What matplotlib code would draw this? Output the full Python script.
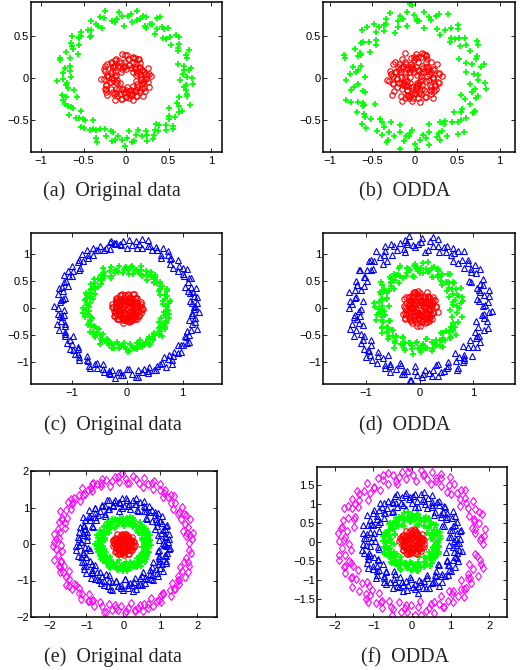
import numpy as np
import matplotlib
matplotlib.use("Agg")
import matplotlib.pyplot as plt
from matplotlib.ticker import FuncFormatter

plt.rcParams['font.family'] = ['Liberation Sans', 'DejaVu Sans']

# ---------------- data: ring points as (angle in degrees, radius in 1/100) ----------------
# Panel (a) Original data
A_RED_ANG = [3,8,14,19,24,31,35,40,46,52,57,61,67,73,78,84,89,95,100,106,111,117,122,128,133,139,145,150,155,161,166,172,177,183,188,194,199,205,210,216,221,227,232,238,243,249,254,260,265,271,276,282,287,293,298,304,309,315,320,326,331,337,342,348,353,358,27,118,200,290]
A_RED_RAD = [18,25,12,22,28,15,20,10,24,17,27,13,21,26,16,23,11,19,29,14,22,25,17,9,24,20,28,15,18,26,12,23,21,30,16,19,25,13,27,22,10,18,24,15,29,20,14,26,17,23,11,21,28,16,25,19,13,24,22,27,15,20,12,26,18,23,21,14,25,19]
A_RED_ANG2 = [12,50,93,137,170,215,262,300,345,22,66,108,150,192,236,279,321,5,44,88,129,174,211,256,297,338,36,79,121,163,207,248,289,331,16,58,99,141,184,226,268,312,354,28,71,113,157,196,242,284,326,9,53,96,133,180,223,270,309,350]
A_RED_RAD2 = [23,16,27,20,13,29,18,25,21,14,26,19,28,11,22,24,17,30,15,27,20,23,12,26,18,29,21,16,25,19,28,14,22,24,17,27,13,20,26,23,15,29,18,21,25,12,28,19,24,16,22,27,20,14,26,17,30,23,18,21]
A_GRN_ANG = [1,4,9,12,15,21,24,27,33,36,38,43,47,50,55,58,61,66,70,72,77,81,84,88,92,96,99,104,107,110,116,119,122,126,131,134,137,142,145,149,153,157,160,165,168,171,176,179,183,187,190,195,198,201,206,210,213,217,221,224,228,232,235,240,243,246,251,254,258,262,266,269,273,277,280,285,288,291,296,299,303,307,310,314,318,321,325,329,332,337,340,343,348,351,355,358,18,64,140,230]
A_GRN_RAD = [72,67,78,70,63,75,81,69,74,66,79,71,64,77,73,68,82,70,65,76,72,80,67,74,62,78,71,69,83,75,66,73,79,70,64,76,72,81,68,74,63,77,70,80,67,73,75,65,82,71,69,78,74,62,76,72,80,66,73,70,79,64,75,71,68,83,73,66,77,70,74,81,63,76,69,72,79,67,75,71,65,78,73,80,68,74,62,77,70,82,66,75,72,69,79,64,76,71,73,78]
A_GRN_ANG2 = [7,8,30,41,45,52,63,68,75,79,94,101,113,128,130,147,151,163,173,181,185,193,203,208,219,226,237,244,256,260,271,275,283,294,301,305,312,316,327,334,345,353,360,57,86,118,139,199,248,290]
A_GRN_RAD2 = [75,69,71,78,66,73,80,64,76,70,74,68,79,72,65,77,71,81,67,74,70,63,78,73,76,69,72,80,66,75,71,77,64,79,73,68,82,70,75,67,74,71,78,62,76,70,73,79,65,72]

# Panel (b) ODDA
B_RED_ANG = [2,7,11,16,22,26,31,35,41,45,50,54,59,64,68,73,78,82,87,92,96,101,106,110,115,120,124,129,134,138,143,148,152,157,162,166,171,176,180,185,190,194,199,204,208,213,218,222,227,232,236,241,246,250,255,260,264,269,274,278,283,288,292,297,302,306,311,316,320,325,330,334,339,344,348,353,358,60,175,285]
B_RED_RAD = [22,14,29,8,25,18,31,12,20,27,5,23,16,30,10,26,19,13,28,21,7,24,17,32,11,22,27,15,9,25,20,30,13,18,24,6,28,16,21,33,12,26,19,10,23,29,14,20,8,27,17,31,22,11,25,15,28,19,13,24,30,9,21,26,16,18,32,12,23,27,7,20,25,14,29,17,22,10,26,19]
B_RED_ANG2 = [15,57,99,140,183,224,266,309,350,33,75,118,161,201,245,287,329,8,49,92,133,176,217,259,301,343,25,68,110,152,195,236,279,320,4,45,87,128,171,212,254,296,338,19,62,104,146,188,230,272,314,356,38,81,123,165,207,249,291,333]
B_RED_RAD2 = [17,26,11,30,21,14,24,8,28,19,31,13,23,16,27,10,22,29,15,25,20,12,33,18,26,9,24,30,14,21,27,17,11,25,32,19,23,13,28,16,22,7,26,20,29,15,24,31,12,18,27,21,10,25,19,30,14,23,17,28]
B_GRN_ANG = [3,6,11,14,19,23,26,31,35,39,42,46,51,54,58,63,66,71,74,79,82,86,91,94,98,103,106,111,114,118,123,127,130,135,138,142,147,150,154,159,162,167,170,174,179,182,186,191,194,198,203,206,211,214,218,223,226,230,235,238,242,247,250,255,258,262,267,270,275,278,282,287,290,294,299,302,307,310,314,319,322,326,331,334,339,342,346,351,354,358,48,97,155,208,247,300,17,120,265,330]
B_GRN_RAD = [74,61,83,69,78,57,72,86,65,76,70,59,81,73,67,85,63,77,71,60,79,68,74,88,62,75,70,82,58,73,66,80,71,64,84,69,76,61,78,72,87,65,74,70,59,81,67,76,63,85,72,68,79,56,75,71,83,64,77,69,60,80,73,66,86,70,62,78,74,68,82,57,75,71,79,64,84,69,73,61,77,67,81,72,58,76,70,85,65,74,63,79,71,68,83,60,75,72,66,80]
B_GRN_ANG2 = [4,9,16,28,33,44,49,60,69,77,88,92,101,108,116,125,133,140,145,157,164,172,177,189,196,201,209,216,221,233,240,245,253,260,264,272,280,285,292,297,305,312,317,324,329,337,344,349,356,88]
B_GRN_RAD2 = [70,79,63,84,72,66,77,59,81,74,68,86,71,64,78,73,82,60,75,69,85,67,76,72,61,80,70,74,83,65,78,71,58,76,69,84,73,66,79,71,62,87,74,68,80,64,77,72,83,70]

# Panel (c) Original data
C_RED_ANG = [4,9,15,20,25,30,36,41,46,51,57,62,67,72,78,83,88,93,99,104,109,114,120,125,130,135,141,146,151,156,162,167,172,177,183,188,193,198,204,209,214,219,225,230,235,240,246,251,256,261,267,272,277,282,288,293,298,303,309,314,319,324,330,335,340,345,351,356,70,250]
C_RED_RAD = [15,23,8,19,27,12,21,17,25,6,20,14,28,10,22,18,26,13,24,9,17,27,11,21,16,25,7,19,23,14,28,12,20,26,9,18,24,15,22,11,27,16,21,8,25,19,13,23,28,10,20,17,26,12,24,15,22,9,19,27,14,21,25,11,18,23,16,28,13,20]
C_RED_ANG2 = [7,48,90,131,174,215,257,299,341,27,69,110,152,194,236,278,320,2,44,85,127,169,211,252,294,336,18,60,102,143,185,227,269,311,352,34,76,118,160,201,243,285,327,12,54,95,137,179,221,263,305,347,23,65,107,148,190,232,274,316]
C_RED_RAD2 = [18,25,12,21,27,15,23,9,26,20,14,28,17,22,11,24,19,27,13,25,16,21,28,10,23,18,26,14,20,24,8,27,17,22,25,12,19,28,15,23,21,11,26,18,24,13,27,20,16,22,25,9,19,28,14,23,17,26,21,12]
C_GRN_ANG = [2,6,10,14,18,22,27,31,35,39,43,47,51,56,60,64,68,72,76,80,85,89,93,97,101,105,109,114,118,122,126,130,134,138,143,147,151,155,159,163,167,172,176,180,184,188,192,196,201,205,209,213,217,221,225,230,234,238,242,246,250,254,259,263,267,271,275,279,283,288,292,296,300,304,308,312,317,321,325,329,333,337,341,346,350,354,358,120,200,290]
C_GRN_RAD = [72,66,78,70,75,64,80,69,73,77,67,74,79,63,71,76,68,82,72,65,77,70,74,66,80,71,68,75,63,78,73,69,76,81,66,72,74,64,79,70,75,67,73,80,69,71,77,65,74,72,68,79,63,76,70,74,82,67,73,71,78,65,75,69,72,80,66,74,77,70,64,73,79,68,75,71,66,81,72,69,76,63,74,78,70,67,73,85,71,75]
C_GRN_ANG2 = [4,8,12,20,24,29,33,41,45,49,53,58,66,70,74,78,83,87,91,95,103,107,111,116,124,128,132,136,141,145,149,153,157,161,165,169,174,178,182,186,194,198,203,207,211,215,219,223,227,232,236,240,244,248,252,256,261,265,269,273,277,281,285,290,294,298,302,306,310,314,319,323,327,331,335,339,344,348,352,356]
C_GRN_RAD2 = [70,76,67,73,79,65,74,71,68,77,72,80,66,75,70,73,78,64,76,71,69,74,81,67,72,77,70,65,75,79,68,73,71,76,63,78,72,69,74,80,66,71,77,73,68,75,70,79,64,74,72,67,76,71,78,69,73,65,75,80,70,74,67,77,72,71,79,66,74,69,76,73,68,78,71,75,64,72,77,70]
C_BLU_ANG = [1,4,7,11,14,17,21,24,27,30,34,37,40,44,47,50,53,57,60,63,67,70,73,76,80,83,86,90,93,96,99,103,106,109,113,116,119,122,126,129,132,136,139,142,145,149,152,155,159,162,165,168,172,175,178,182,185,188,191,195,198,201,205,208,211,214,218,221,224,228,231,234,237,241,244,247,251,254,257,260,264,267,270,274,277,280,283,287,290,293,297,300,303,306,310,313,316,320,323,326,329,333,336,339,343,346,349,352,356,359]
C_BLU_RAD = [120,126,114,123,117,129,112,121,125,118,130,115,122,127,113,119,124,111,128,120,116,123,131,114,121,126,118,112,125,119,122,128,113,117,124,120,127,115,121,130,118,123,112,126,119,116,129,121,114,124,120,127,117,122,131,113,125,118,121,115,128,120,123,111,126,119,124,116,122,129,114,121,127,118,123,112,125,120,117,130,119,124,113,122,128,116,121,126,115,123,120,118,129,112,125,121,117,127,114,122,126,119,123,116,131,120,113,124,118,121]
C_BLU_ANG2 = [2,5,9,16,19,26,32,36,42,49,55,58,65,72,78,81,88,95,101,104,111,118,124,127,134,141,147,150,157,163,170,173,180,187,193,196,203,210,216,219,226,233,239,242,249,256,262,265,272,279,285,288,295,302,308,311,318,325,331,334,341,348,354,357,14,100,186,222,255,308]
C_BLU_RAD2 = [123,117,127,114,121,129,119,125,112,122,128,116,124,120,131,113,126,118,122,127,115,121,129,117,124,111,126,120,123,128,114,119,125,121,130,116,122,118,127,113,124,120,129,115,121,126,119,123,112,128,117,122,125,120,131,114,124,119,127,116,121,125,118,129,122,120,115,126,123,119]

# Panel (d) ODDA
D_RED_ANG = [2,8,13,18,24,29,34,39,45,50,55,60,66,71,76,81,87,92,97,102,108,113,118,123,129,134,139,144,150,155,160,165,171,176,181,186,192,197,202,207,213,218,223,228,234,239,244,249,255,260,265,270,276,281,286,291,297,302,307,312,318,323,328,333,339,344,349,354,140,20]
D_RED_RAD = [20,30,12,25,17,33,8,22,28,14,26,19,32,10,23,16,29,6,21,27,13,31,18,24,9,28,15,22,34,11,26,20,30,14,17,25,7,29,23,12,32,19,27,16,21,10,30,24,13,28,18,33,11,25,20,15,29,22,8,26,31,17,23,13,27,19,34,10,24,21]
D_RED_ANG2 = [10,52,94,136,178,220,262,304,346,31,73,115,157,199,241,283,325,6,48,90,132,174,216,258,300,342,21,63,105,147,189,231,273,315,357,39,81,123,165,207,249,291,333,14,56,98,140,182,224,266,308,350,26,68,110,152,194,236,278,320]
D_RED_RAD2 = [24,15,31,19,27,11,34,22,17,29,13,26,20,32,9,25,18,30,14,23,28,16,33,21,12,27,19,24,31,15,22,29,10,26,18,33,13,25,21,28,16,30,23,11,27,19,32,14,24,20,29,17,26,12,31,22,18,28,15,25]
D_GRN_ANG = [1,5,9,13,17,21,26,30,34,38,42,46,50,55,59,63,67,71,75,79,84,88,92,96,100,104,108,113,117,121,125,129,133,137,142,146,150,154,158,162,166,171,175,179,183,187,191,195,200,204,208,212,216,220,224,229,233,237,241,245,249,253,258,262,266,270,274,278,282,287,291,295,299,303,307,311,316,320,324,328,332,336,340,345,349,353,357,95,185,275]
D_GRN_RAD = [73,62,81,68,76,58,85,70,66,79,72,60,83,74,67,77,63,80,71,87,65,75,69,82,59,73,78,64,84,70,76,61,79,72,68,86,65,74,80,63,71,77,57,82,69,75,66,84,72,60,78,70,74,64,81,67,76,88,62,73,79,68,71,85,63,77,70,74,59,82,66,75,80,69,72,61,78,65,83,71,74,68,76,62,81,70,57,79,73,66]
D_GRN_ANG2 = [3,7,11,15,19,23,28,32,36,40,44,48,52,57,61,65,69,73,77,81,86,90,94,98,102,106,110,115,119,123,127,131,135,139,144,148,152,156,160,164,168,173,177,181,185,189,193,197,202,206,210,214,218,222,226,231,235,239,243,247,251,255,260,264,268,272,276,280,284,289,293,297,301,305,309,313,318,322,326,330]
D_GRN_RAD2 = [70,78,64,82,73,67,76,60,80,72,69,84,65,75,71,79,62,77,68,74,83,66,72,78,61,75,70,86,64,73,79,68,76,71,59,81,74,67,77,63,72,85,69,75,66,80,71,73,62,78,70,83,65,76,72,68,79,61,74,70,82,67,77,64,73,80,69,75,58,78,71,66,84,72,76,63,79,70,74,68]
D_BLU_ANG = [2,5,9,12,15,19,22,25,29,32,35,38,42,45,48,52,55,58,61,65,68,71,75,78,81,84,88,91,94,98,101,104,107,111,114,117,121,124,127,130,134,137,140,144,147,150,153,157,160,163,167,170,173,176,180,183,186,190,193,196,199,203,206,209,213,216,219,222,226,229,232,236,239,242,245,249,252,255,259,262,265,268,272,275,278,282,285,288,291,295,298,301,305,308,311,314,318,321,324,328,331,334,337,341,344,347,351,354,357,160]
D_BLU_RAD = [118,127,108,122,133,113,120,129,105,124,116,131,111,126,119,135,107,121,128,114,123,110,132,117,125,104,129,119,113,134,121,108,126,115,130,111,124,118,133,106,122,128,112,120,131,116,109,127,123,114,135,119,106,125,130,113,121,117,128,110,124,132,115,120,108,127,122,134,112,118,129,105,123,116,131,120,111,126,119,133,107,124,128,114,121,117,130,109,125,122,113,134,118,106,127,120,131,115,123,110,128,119,112,126,132,108,121,116,129,124]
D_BLU_ANG2 = [3,7,10,17,20,27,33,37,43,50,56,59,66,73,79,82,89,96,102,105,112,119,125,128,135,142,148,151,158,164,171,174,181,188,194,197,204,211,217,220,227,234,240,243,250,257,263,266,273,280,286,289,296,303,309,312,319,326,332,335,342,349,355,358,15,101,187,223,256,309]
D_BLU_RAD2 = [121,112,130,116,125,107,133,119,123,110,128,114,126,120,134,108,122,117,129,113,124,131,106,120,127,115,132,118,111,125,121,129,109,123,116,134,119,126,112,122,130,114,127,120,108,124,133,117,121,128,110,125,119,131,115,123,106,129,118,122,113,127,120,135,116,124,111,126,119,128]

# Panel (e) Original data
E_RED_ANG = [5,12,20,27,34,41,49,56,63,70,78,85,92,99,107,114,121,128,136,143,150,157,165,172,179,186,194,201,208,215,223,230,237,244,252,259,266,273,281,288,295,302,310,317,324,331,339,346,353,90]
E_RED_RAD = [18,28,10,24,15,31,21,7,26,13,29,19,23,11,27,16,32,9,22,25,14,30,20,12,26,17,28,6,24,19,31,13,22,27,10,25,18,29,15,21,30,8,23,17,27,12,26,20,31,14]
E_RED_ANG2 = [9,45,81,117,153,189,225,261,297,333,27,63,99,135,171,207,243,279,315,351,18,54,90,126,162,198,234,270,306,342,36,72,108,144,180,216,252,288,324,0]
E_RED_RAD2 = [22,14,29,17,25,11,27,20,31,15,24,18,28,12,26,21,30,16,23,13,27,19,25,10,29,22,17,26,14,31,20,24,12,28,18,23,30,15,26,8]
E_GRN_ANG = [2,7,11,16,20,25,29,34,38,43,47,52,56,61,65,70,74,79,83,88,92,97,101,106,110,115,119,124,128,133,137,142,146,151,155,160,164,169,173,178,182,187,191,196,200,205,209,214,218,223,227,232,236,241,245,250,254,259,263,268,272,277,281,286,290,295,299,304,308,313,317,322,326,331,335,340,344,349,353,358]
E_GRN_RAD = [60,70,52,66,75,56,63,72,49,68,58,74,61,54,69,77,57,65,71,50,64,73,59,67,53,76,62,70,55,66,72,48,63,69,58,75,61,52,68,64,71,56,74,60,67,51,65,73,57,62,70,54,68,76,59,64,47,72,61,66,55,74,63,69,52,71,58,65,77,60,67,53,73,62,56,70,64,50,68,75]
E_GRN_ANG2 = [0,4,9,13,18,22,27,31,36,40,45,49,54,58,63,67,72,76,81,85,90,94,99,103,108,112,117,121,126,130,135,139,144,148,153,157,162,166,171,175,180,184,189,193,198,202,207,211,216,220,225,229,234,238,243,247,252,256,261,265,270,274,279,283,288,292,297,301,306,310,315,319,324,328,333,337,342,346,351,355]
E_GRN_RAD2 = [66,57,72,62,53,69,75,59,64,71,51,67,74,60,56,70,63,76,58,68,72,54,65,61,73,69,50,66,75,58,63,70,56,74,62,67,53,71,65,59,76,61,68,55,72,64,70,57,66,73,52,69,62,75,60,67,54,71,64,58,74,63,49,68,70,56,65,72,61,67,53,76,59,64,70,57,73,62,66,55]
E_BLU_ANG = [0,3,6,10,13,16,20,23,26,29,33,36,39,43,46,49,52,56,59,62,66,69,72,75,79,82,85,89,92,95,98,102,105,108,112,115,118,121,125,128,131,135,138,141,144,148,151,154,158,161,164,167,171,174,177,181,184,187,190,194,197,200,204,207,210,213,217,220,223,227,230,233,236,240,243,246,250,253,256,259,263,266,269,273,276,279,282,286,289,292,296,299,302,305,309,312,315,319,322,325,328,332,335,338,342,345,348,351,355,358]
E_BLU_RAD = [112,121,98,117,127,105,114,124,95,119,109,129,101,116,122,93,111,126,107,118,100,123,114,131,97,110,120,104,125,113,91,118,108,128,102,115,121,96,112,124,106,130,99,117,111,122,94,119,127,103,114,109,125,98,116,121,105,129,92,113,120,107,123,101,118,126,96,111,115,128,100,119,106,124,113,93,121,109,130,103,117,112,125,97,122,108,114,127,99,119,104,123,110,92,126,116,101,120,113,129,95,118,107,124,102,115,121,98,127,111]
E_BLU_ANG2 = [2,6,11,15,20,24,29,33,38,42,47,51,56,60,65,69,74,78,83,87,92,96,101,105,110,114,119,123,128,132,137,141,146,150,155,159,164,168,173,177,182,186,191,195,200,204,209,213,218,222,227,231,236,240,245,249,254,258,263,267,272,276,281,285,290,294,299,303,308,312,317,321,326,330,335,339,344,348,353,357]
E_BLU_RAD2 = [108,124,115,97,120,129,103,117,112,126,95,121,109,118,130,101,114,123,106,127,99,116,122,110,128,104,119,93,125,113,107,121,131,98,117,111,124,102,120,115,129,96,112,126,108,118,123,100,127,114,106,122,119,94,125,110,128,103,116,121,97,113,130,107,119,124,101,115,122,109,127,99,118,112,126,104,120,96,123,114]
E_MAG_ANG = [1,4,7,9,12,15,18,21,24,27,30,33,36,39,41,44,47,50,53,56,59,62,65,68,71,73,76,79,82,85,88,91,94,97,100,103,105,108,111,114,117,120,123,126,129,132,135,137,140,143,146,149,152,155,158,161,164,167,169,172,175,178,181,184,187,190,193,196,199,201,204,207,210,213,216,219,222,225,228,231,233,236,239,242,245,248,251,254,257,260,263,265,268,271,274,277,280,283,286,289,292,295,297,300,303,306,309,312,315,318,321,324,327,329,332,335,338,341,344,347,350,353,356,359]
E_MAG_RAD = [178,186,171,190,166,182,175,193,169,184,174,188,164,180,172,191,177,168,185,179,192,170,183,176,165,189,173,181,187,167,178,194,171,185,175,163,182,188,170,179,186,168,176,191,173,180,166,184,177,189,172,181,195,169,178,185,164,183,174,190,176,187,170,182,167,179,192,175,184,171,188,165,180,177,193,173,186,169,181,178,190,166,183,174,187,172,179,194,168,185,176,182,170,189,175,164,184,180,191,173,178,186,167,181,188,174,171,193,177,183,169,185,179,172,190,176,166,187,182,175]
E_MAG_ANG2 = [8,10,25,29,46,52,64,87,95,110,116,127,139,142,157,160,176,182,195,205,218,221,238,241,256,262,272,285,291,302,308,318,326,336,343,352,355,120,200,280]
E_MAG_RAD2 = [182,174,188,170,185,177,191,168,183,179,186,172,189,176,181,167,184,190,175,180,187,171,183,178,192,169,185,174,188,180,173,186,177,190,170,184,179,176,182,187]

# Panel (f) ODDA
F_RED_ANG = [3,10,17,25,32,39,46,54,61,68,75,83,90,97,104,112,119,126,133,141,148,155,162,170,177,184,191,199,206,213,220,228,235,242,249,257,264,271,278,286,293,300,307,315,322,329,336,344,351,358]
F_RED_RAD = [22,31,12,27,17,34,8,25,20,29,14,33,23,10,28,18,32,6,24,21,30,13,26,16,35,11,22,28,19,9,31,24,15,27,20,33,12,25,18,30,7,26,21,34,14,23,29,17,32,19]
F_RED_ANG2 = [6,42,78,114,150,186,222,258,294,330,24,60,96,132,168,204,240,276,312,348,15,51,87,123,159,195,231,267,303,339,33,69,105,141,177,213,249,285,321,357]
F_RED_RAD2 = [25,16,32,20,28,13,30,23,34,17,27,21,31,14,29,24,33,18,26,15,30,22,28,12,32,25,19,29,16,34,23,27,14,31,20,26,33,18,28,11]
F_GRN_ANG = [1,6,10,15,19,24,28,33,37,42,46,51,55,60,64,69,73,78,82,87,91,96,100,105,109,114,118,123,127,132,136,141,145,150,154,159,163,168,172,177,181,186,190,195,199,204,208,213,217,222,226,231,235,240,244,249,253,258,262,267,271,276,280,285,289,294,298,303,307,312,316,321,325,330,334,339,343,348,352,357]
F_GRN_RAD = [63,72,51,68,77,57,65,45,74,60,69,54,78,62,71,48,66,75,58,64,73,52,67,79,61,70,46,74,63,56,68,76,59,65,50,72,61,78,55,69,64,47,73,60,67,77,53,70,62,58,75,66,49,71,64,79,57,68,61,73,54,66,76,59,70,44,72,63,78,56,67,61,74,51,69,75,58,65,71,62]
F_GRN_ANG2 = [3,8,12,17,21,26,30,35,39,44,48,53,57,62,66,71,75,80,84,89,93,98,102,107,111,116,120,125,129,134,138,143,147,152,156,161,165,170,174,179,183,188,192,197,201,206,210,215,219,224,228,233,237,242,246,251,255,260,264,269,273,278,282,287,291,296,300,305,309,314,318,323,327,332,336,341,345,350,354,359]
F_GRN_RAD2 = [68,56,74,61,49,71,65,77,58,63,72,53,67,75,60,66,46,73,62,70,55,78,64,59,69,74,52,66,71,61,76,57,65,68,48,73,63,70,58,75,54,67,72,62,79,60,69,65,51,74,63,71,57,67,76,59,64,70,53,72,61,68,77,56,66,73,60,69,50,75,64,62,71,58,74,66,55,70,63,67]
F_BLU_ANG = [1,4,8,11,14,18,21,24,28,31,34,37,41,44,47,51,54,57,60,64,67,70,74,77,80,83,87,90,93,97,100,103,106,110,113,116,120,123,126,129,133,136,139,143,146,149,152,156,159,162,166,169,172,175,179,182,185,189,192,195,198,202,205,208,212,215,218,221,225,228,231,235,238,241,244,248,251,254,258,261,264,267,271,274,277,281,284,287,290,294,297,300,304,307,310,313,317,320,323,327,330,333,336,340,343,346,350,353,356,359]
F_BLU_RAD = [110,124,96,118,131,103,115,127,89,121,107,134,99,113,125,92,119,129,105,116,97,122,111,133,94,108,126,101,117,130,88,120,106,128,98,114,123,93,111,132,104,119,95,125,109,135,100,117,122,91,113,128,103,120,97,126,110,131,87,115,121,106,129,99,118,124,94,112,133,102,116,127,90,119,108,130,97,122,114,104,125,92,118,111,134,100,123,107,128,95,117,121,105,131,98,113,126,89,120,110,129,102,116,124,93,119,132,106,114,122]
F_BLU_ANG2 = [4,8,13,17,22,26,31,35,40,44,49,53,58,62,67,71,76,80,85,89,94,98,103,107,112,116,121,125,130,134,139,143,148,152,157,161,166,170,175,179,184,188,193,197,202,206,211,215,220,224,229,233,238,242,247,251,256,260,265,269,274,278,283,287,292,296,301,305,310,314,319,323,328,332,337,341,346,350,355,359]
F_BLU_RAD2 = [115,101,127,108,120,93,130,112,118,104,125,97,122,110,133,106,116,128,91,119,113,124,100,131,109,117,95,126,121,105,129,114,98,123,111,134,102,118,126,107,120,90,128,115,122,99,132,110,117,125,103,119,128,94,114,121,108,130,112,96,124,117,106,127,101,120,135,109,115,122,92,126,113,104,129,118,111,123,97,116]
F_MAG_ANG = [2,5,8,10,13,16,19,22,25,28,31,34,37,40,42,45,48,51,54,57,60,63,66,69,72,74,77,80,83,86,89,92,95,98,101,104,106,109,112,115,118,121,124,127,130,133,136,138,141,144,147,150,153,156,159,162,165,168,170,173,176,179,182,185,188,191,194,197,200,202,205,208,211,214,217,220,223,226,229,232,234,237,240,243,246,249,252,255,258,261,264,266,269,272,275,278,281,284,287,290,293,296,298,301,304,307,310,313,316,319,322,325,328,330,333,336,339,342,345,348,351,354,357]
F_MAG_RAD = [176,188,165,193,159,181,171,196,162,185,170,190,157,179,168,194,174,161,187,177,195,164,183,172,158,191,169,180,189,160,175,197,166,186,173,156,182,190,163,178,188,160,174,194,168,181,158,186,176,192,167,180,197,162,177,187,156,184,171,193,173,189,163,182,159,178,195,170,185,166,191,157,180,175,196,168,187,161,181,177,193,159,184,172,189,165,178,197,161,186,174,183,164,192,171,155,185,179,194,167,176,188,160,181,190,170,166,196,175,184,162,187,178,168,193,173,158,189,182,172]
F_MAG_ANG2 = [3,12,24,36,47,55,67,81,93,105,113,125,137,146,158,169,178,190,199,211,222,231,243,254,265,277,287,295,307,318,327,340,349,358,70,150,230,310,20,200]
F_MAG_RAD2 = [180,167,191,173,186,160,194,177,183,164,189,171,196,179,162,186,175,192,168,184,158,190,176,181,165,193,170,187,161,182,174,195,166,185,178,190,163,184,172,188]

CAPTIONS = ["(a)  Original data", "(b)  ODDA", "(c)  Original data",
            "(d)  ODDA", "(e)  Original data", "(f)  ODDA"]
XTICKS = [[-1, -0.5, 0, 0.5, 1], [-1, -0.5, 0, 0.5, 1], [-1, 0, 1], [-1, 0, 1],
          [-2, -1, 0, 1, 2], [-2, -1, 0, 1, 2]]
YTICKS = [[-0.5, 0, 0.5], [-0.5, 0, 0.5], [-1, -0.5, 0, 0.5, 1], [-1, -0.5, 0, 0.5, 1],
          [-2, -1, 0, 1, 2], [-1.5, -1, -0.5, 0, 0.5, 1, 1.5]]

# ---------------- styles ----------------
W, H = 520, 670
STY = {
    'red':  dict(marker='o', color=(1, 0, 0), mfc='none', ms=3.9, mew=0.8),
    'grn':  dict(marker='+', color=(0, 1, 0), ms=5.0, mew=1.3),
    'blu':  dict(marker='^', color=(0, 0, 1), mfc='none', ms=4.0, mew=0.8),
    'mag':  dict(marker='d', color=(1, 0, 1), mfc='none', ms=4.4, mew=0.8),
}

def rect(l, r, t, b):
    return [l / W, 1 - b / H, (r - l) / W, (b - t) / H]

PANELS = [
    dict(rect=rect(31, 222, 2, 152), xlim=(-1.12, 1.13), ylim=(-0.88, 0.9),
         rings=[(A_GRN_ANG, A_GRN_RAD, 'grn'), (A_GRN_ANG2, A_GRN_RAD2, 'grn'),
                (A_RED_ANG, A_RED_RAD, 'red'), (A_RED_ANG2, A_RED_RAD2, 'red')], cx=112, cy=196),
    dict(rect=rect(323, 515, 2, 152), xlim=(-1.08, 1.18), ylim=(-0.88, 0.9),
         rings=[(B_GRN_ANG, B_GRN_RAD, 'grn'), (B_GRN_ANG2, B_GRN_RAD2, 'grn'),
                (B_RED_ANG, B_RED_RAD, 'red'), (B_RED_ANG2, B_RED_RAD2, 'red')], cx=405, cy=196),
    dict(rect=rect(31, 222, 233, 384), xlim=(-1.73, 1.71), ylim=(-1.4, 1.39),
         rings=[(C_BLU_ANG, C_BLU_RAD, 'blu'), (C_BLU_ANG2, C_BLU_RAD2, 'blu'),
                (C_GRN_ANG, C_GRN_RAD, 'grn'), (C_GRN_ANG2, C_GRN_RAD2, 'grn'),
                (C_RED_ANG, C_RED_RAD, 'red'), (C_RED_ANG2, C_RED_RAD2, 'red')], cx=113, cy=430),
    dict(rect=rect(323, 515, 233, 384), xlim=(-1.79, 1.77), ylim=(-1.4, 1.39),
         rings=[(D_BLU_ANG, D_BLU_RAD, 'blu'), (D_BLU_ANG2, D_BLU_RAD2, 'blu'),
                (D_GRN_ANG, D_GRN_RAD, 'grn'), (D_GRN_ANG2, D_GRN_RAD2, 'grn'),
                (D_RED_ANG, D_RED_RAD, 'red'), (D_RED_ANG2, D_RED_RAD2, 'red')], cx=405, cy=430),
    dict(rect=rect(31, 217, 471, 617), xlim=(-2.5, 2.53), ylim=(-2, 2),
         rings=[(E_MAG_ANG, E_MAG_RAD, 'mag'), (E_MAG_ANG2, E_MAG_RAD2, 'mag'),
                (E_BLU_ANG, E_BLU_RAD, 'blu'), (E_BLU_ANG2, E_BLU_RAD2, 'blu'),
                (E_GRN_ANG, E_GRN_RAD, 'grn'), (E_GRN_ANG2, E_GRN_RAD2, 'grn'),
                (E_RED_ANG, E_RED_RAD, 'red'), (E_RED_ANG2, E_RED_RAD2, 'red')], cx=113, cy=662),
    dict(rect=rect(317, 507, 467, 617), xlim=(-2.46, 2.46), ylim=(-1.96, 1.96),
         rings=[(F_MAG_ANG, F_MAG_RAD, 'mag'), (F_MAG_ANG2, F_MAG_RAD2, 'mag'),
                (F_BLU_ANG, F_BLU_RAD, 'blu'), (F_BLU_ANG2, F_BLU_RAD2, 'blu'),
                (F_GRN_ANG, F_GRN_RAD, 'grn'), (F_GRN_ANG2, F_GRN_RAD2, 'grn'),
                (F_RED_ANG, F_RED_RAD, 'red'), (F_RED_ANG2, F_RED_RAD2, 'red')], cx=405, cy=662),
]

def fmt(v, pos):
    s = "%g" % v
    return s.replace("-", "\u2212")

fig = plt.figure(figsize=(W / 100, H / 100), dpi=100)
for i, p in enumerate(PANELS):
    ax = fig.add_axes(p['rect'])
    for ang, rad, key in p['rings']:
        pairs = list(zip(ang, rad))
        a = np.deg2rad(np.array([q[0] for q in pairs], dtype=float))
        r = np.array([q[1] for q in pairs], dtype=float) / 100.0
        ax.plot(r * np.cos(a), r * np.sin(a), linestyle='none', **STY[key])
    ax.set_xlim(*p['xlim'])
    ax.set_ylim(*p['ylim'])
    ax.set_xticks(XTICKS[i])
    ax.set_yticks(YTICKS[i])
    ax.xaxis.set_major_formatter(FuncFormatter(fmt))
    ax.yaxis.set_major_formatter(FuncFormatter(fmt))
    ax.tick_params(direction='in', length=3, width=0.6, top=True, right=True,
                   labelsize=8, colors='black')
    ax.tick_params(axis='x', pad=3)
    ax.tick_params(axis='y', pad=1.5)
    for s in ax.spines.values():
        s.set_linewidth(1.1)
    fig.text(p['cx'] / W, 1 - p['cy'] / H, CAPTIONS[i], ha='center', va='baseline',
             fontsize=14.5, family=['Liberation Serif', 'DejaVu Serif'], color='#222222')

fig.savefig("out.png", dpi=100)
